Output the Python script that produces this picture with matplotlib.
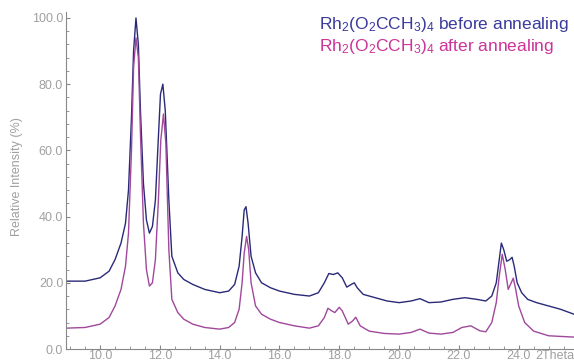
import matplotlib
matplotlib.use("Agg")
import matplotlib.pyplot as plt
from matplotlib.ticker import MultipleLocator, FormatStrFormatter

# DATA

before_x = [8.87, 9.5, 10.0, 10.3, 10.5, 10.7, 10.85, 10.95, 11.05, 11.12,
            11.2, 11.28, 11.35, 11.45, 11.55, 11.65, 11.75, 11.85, 11.95, 12.02,
            12.1, 12.18, 12.3, 12.4, 12.6, 12.8, 13.1, 13.5, 14.0, 14.3,
            14.5, 14.65, 14.75, 14.82, 14.88, 14.95, 15.05, 15.2, 15.4, 15.7,
            16.0, 16.5, 17.0, 17.3, 17.5, 17.65, 17.8, 17.95, 18.1, 18.25,
            18.4, 18.5, 18.6, 18.8, 19.2, 19.6, 20.0, 20.4, 20.7, 21.0,
            21.4, 21.8, 22.2, 22.6, 22.9, 23.1, 23.25, 23.35, 23.42, 23.5,
            23.6, 23.7, 23.78, 23.85, 23.95, 24.1, 24.3, 24.6, 25.0, 25.4,
            25.85]
before_y = [20.5, 20.5, 21.5, 23.5, 27, 32, 38, 48, 70, 90,
            100, 92, 72, 50, 39, 35, 37, 45, 64, 77,
            80, 72, 45, 28, 23, 21, 19.5, 18, 17, 17.5,
            19.5, 25, 34, 42, 43, 38, 28, 23, 20, 18.5,
            17.5, 16.5, 16, 17, 20, 22.8, 22.5, 23, 21.5, 18.7,
            19.5, 20, 18.5, 16.5, 15.5, 14.5, 14, 14.5, 15.2, 14,
            14.2, 15, 15.5, 15, 14.5, 16, 20, 27, 32, 30,
            26.5, 27, 27.7, 25, 20, 17, 15, 14, 13, 12,
            10.5]

after_x = [8.87, 9.5, 10.0, 10.3, 10.5, 10.7, 10.85, 10.95, 11.05, 11.12,
           11.2, 11.28, 11.35, 11.45, 11.55, 11.65, 11.75, 11.85, 11.95, 12.03,
           12.12, 12.2, 12.3, 12.4, 12.6, 12.8, 13.1, 13.5, 14.0, 14.3,
           14.5, 14.65, 14.75, 14.82, 14.9, 14.97, 15.05, 15.2, 15.4, 15.7,
           16.0, 16.5, 17.0, 17.3, 17.5, 17.62, 17.75, 17.85, 18.0, 18.1,
           18.3, 18.45, 18.55, 18.7, 19.0, 19.5, 20.0, 20.4, 20.7, 21.0,
           21.4, 21.8, 22.1, 22.4, 22.7, 22.9, 23.1, 23.25, 23.35, 23.45,
           23.55, 23.65, 23.75, 23.82, 23.9, 24.0, 24.2, 24.5, 25.0, 25.4,
           25.85]
after_y = [6.3, 6.5, 7.5, 9.5, 13, 18, 25, 35, 60, 85,
           94, 88, 65, 38, 24, 19, 20, 27, 45, 63,
           71, 62, 30, 15, 11, 9, 7.5, 6.5, 6, 6.5,
           8, 12, 20, 29, 34, 30, 20, 13, 10.5, 9,
           8, 7, 6.3, 7, 9.5, 12.3, 11.5, 11, 12.6, 11.5,
           7.5, 8.5, 9.6, 7, 5.4, 4.7, 4.5, 5, 6, 4.8,
           4.5, 5, 6.5, 7, 5.5, 5.2, 8, 14, 22, 28.6,
           24, 18, 20, 21.4, 18, 13, 8, 5.4, 4, 3.8,
           3.6]

labels = [r"Rh$_2$(O$_2$CCH$_3$)$_4$ before annealing",
          r"Rh$_2$(O$_2$CCH$_3$)$_4$ after annealing"]

# STYLE

plt.rcParams["font.family"] = ["Liberation Sans", "DejaVu Sans"]
plt.rcParams["mathtext.fontset"] = "custom"
plt.rcParams["mathtext.rm"] = "Liberation Sans"
plt.rcParams["mathtext.it"] = "Liberation Sans"

grey = "#a0a0a0"
line_before = "#2a2a78"
line_after = "#a0489c"

fig = plt.figure(figsize=(5.74, 3.64), dpi=100)
ax = fig.add_axes([66 / 574, 15 / 364, 1 - 66 / 574, 337 / 364])

ax.plot(before_x, before_y, color=line_before, linewidth=1.0)
ax.plot(after_x, after_y, color=line_after, linewidth=1.0)

ax.set_xlim(8.86, 25.85)
ax.set_ylim(0, 101.8)

ax.xaxis.set_major_locator(MultipleLocator(2))
ax.xaxis.set_minor_locator(MultipleLocator(0.5))
ax.yaxis.set_major_locator(MultipleLocator(20))
ax.yaxis.set_minor_locator(MultipleLocator(4))
ax.xaxis.set_major_formatter(FormatStrFormatter("%.1f"))
ax.yaxis.set_major_formatter(FormatStrFormatter("%.1f"))

for s in ("top", "right"):
    ax.spines[s].set_visible(False)
for s in ("left", "bottom"):
    ax.spines[s].set_color("#888888")
    ax.spines[s].set_linewidth(0.8)

ax.tick_params(axis="both", which="both", colors="#888888", labelcolor=grey,
               labelsize=9, direction="in")
ax.tick_params(axis="both", which="major", length=3, pad=2)
ax.tick_params(axis="both", which="minor", length=2)
ax.tick_params(axis="x", which="major", pad=1)

xt = [t for t in ax.get_xticks() if 10 <= t <= 24]
ax.set_xticks(xt)

ax.text(1.0, -0.003, "2Theta", transform=ax.transAxes, ha="right", va="top",
        fontsize=9, color=grey)
fig.text(17 / 574, 1 - 177 / 364, "Relative Intensity (%)", rotation=90,
         ha="center", va="center", fontsize=9, color=grey)

fig.text(319 / 574, 1 - 24 / 364, labels[0], ha="left", va="center",
         fontsize=12.5, color="#3a3a9c")
fig.text(319 / 574, 1 - 47 / 364, labels[1], ha="left", va="center",
         fontsize=12.5, color="#cc3399")

fig.savefig("out.png", dpi=100)
